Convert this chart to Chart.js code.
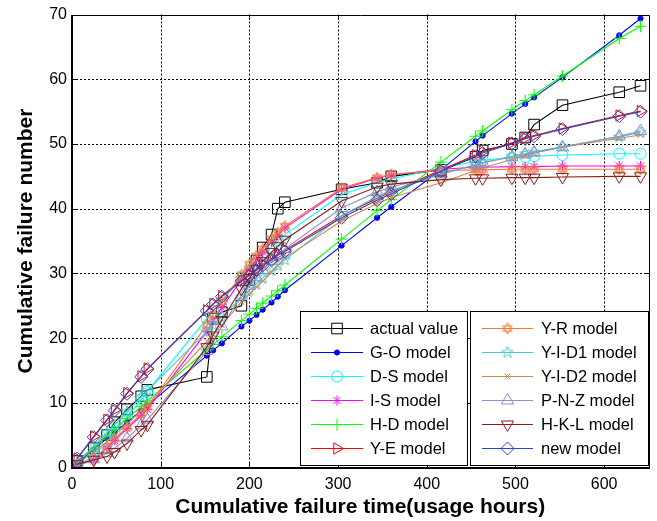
<!DOCTYPE html>
<html><head><meta charset="utf-8">
<script src="https://cdn.jsdelivr.net/npm/chart.js@4.4.1/dist/chart.umd.min.js"></script>
<style>html,body{margin:0;padding:0;background:#fff;overflow:hidden;}</style>
</head><body>
<canvas id="c" width="657" height="521"></canvas>
<script>
// ---------------- data ----------------
const times = [6, 24.5, 39.5, 48, 62, 78, 85, 152, 159, 169, 191, 200, 208, 215, 225, 232, 240, 304, 344, 360, 416, 455, 463, 496, 511, 521, 553, 617, 641];
const actualValue = [1, 3, 5, 7, 9, 11, 12, 14, 23, 24, 25, 29, 32, 34, 36, 40, 41, 43, 44, 45, 46, 48, 49, 50, 51, 53, 56, 58, 59];
const goModel   = [0.7, 2.8, 4.5, 5.4, 7.0, 8.8, 9.6, 17.3, 18.1, 19.2, 21.8, 22.7, 23.6, 24.4, 25.5, 26.4, 27.4, 34.3, 38.6, 40.3, 46.0, 50.4, 51.3, 54.7, 56.2, 57.2, 60.3, 66.8, 69.4];
const dsModel   = [0.3, 1.8, 4.0, 5.5, 7.8, 10.5, 11.8, 23.0, 24.2, 25.8, 29.3, 30.6, 31.8, 32.8, 34.1, 35.0, 36.0, 42.2, 44.0, 44.6, 46.3, 47.3, 47.5, 47.9, 48.0, 48.1, 48.3, 48.5, 48.5];
const isModel   = [0.3, 1.2, 3.0, 4.2, 6.0, 8.0, 9.0, 21.0, 22.6, 24.7, 29.0, 30.7, 32.1, 33.3, 34.9, 35.9, 37.0, 43.0, 44.7, 45.2, 46.1, 46.4, 46.4, 46.5, 46.5, 46.5, 46.6, 46.6, 46.6];
const hdModel   = [0.8, 3.0, 4.9, 5.9, 7.6, 9.4, 10.3, 18.2, 19.0, 20.2, 22.7, 23.7, 24.6, 25.4, 26.5, 27.3, 28.2, 35.3, 39.7, 41.4, 47.2, 51.2, 52.0, 55.3, 56.7, 57.6, 60.5, 66.3, 68.2];
const yeModel   = [1.4, 4.8, 7.4, 8.9, 11.5, 14.1, 15.3, 24.3, 25.3, 26.5, 28.9, 29.8, 30.7, 31.4, 32.3, 33.0, 33.6, 38.9, 41.6, 42.6, 46.0, 48.3, 48.8, 50.2, 50.9, 51.3, 52.4, 54.4, 55.1];
const yrModel   = [0.3, 1.3, 3.2, 4.4, 6.2, 8.3, 9.3, 22.0, 23.6, 25.6, 29.8, 31.4, 32.7, 33.8, 35.3, 36.3, 37.3, 43.2, 44.8, 45.3, 45.9, 46.0, 46.0, 46.1, 46.1, 46.1, 46.1, 46.1, 46.1];
const yid1Model = [0.8, 3.3, 5.4, 6.6, 8.6, 10.9, 11.9, 21.0, 22.0, 23.3, 26.3, 27.4, 28.4, 29.3, 30.4, 31.2, 32.1, 38.9, 41.9, 42.8, 45.3, 46.8, 47.1, 48.1, 48.5, 48.8, 49.6, 51.1, 51.8];
const yid2Model = [0.6, 2.4, 4.0, 5.0, 6.7, 8.8, 9.7, 19.5, 20.6, 22.0, 25.6, 26.8, 27.9, 28.8, 30.2, 31.2, 32.4, 38.1, 40.8, 41.7, 44.0, 45.9, 46.3, 47.6, 48.2, 48.6, 49.5, 50.9, 51.4];
const pnzModel  = [0.4, 1.3, 2.2, 3.0, 4.5, 6.5, 7.4, 18.0, 19.6, 21.8, 26.6, 28.1, 29.4, 30.5, 31.9, 32.8, 33.8, 40.1, 42.6, 43.3, 45.4, 46.8, 47.1, 48.0, 48.4, 48.7, 49.5, 51.2, 52.0];
const hklModel  = [0.5, 1.2, 1.7, 2.4, 3.7, 5.8, 6.6, 18.6, 20.4, 22.8, 27.6, 29.3, 30.7, 31.9, 33.3, 34.2, 35.2, 41.2, 43.4, 43.8, 44.5, 44.7, 44.7, 44.8, 44.8, 44.8, 44.9, 45.0, 45.0];
const newModel  = [1.4, 4.7, 7.3, 8.8, 11.4, 14.0, 15.2, 24.2, 25.2, 26.4, 28.8, 29.7, 30.5, 31.2, 32.1, 32.8, 33.4, 38.6, 41.3, 42.3, 45.8, 48.1, 48.6, 50.1, 50.8, 51.2, 52.3, 54.3, 55.0];
const seriesLabels = ['actual value','G-O model','D-S model','I-S model','H-D model','Y-E model','Y-R model','Y-I-D1 model','Y-I-D2 model','P-N-Z model','H-K-L model','new model'];
const seriesValues = [actualValue, goModel, dsModel, isModel, hdModel, yeModel, yrModel, yid1Model, yid2Model, pnzModel, hklModel, newModel];
const xTicks = [0, 100, 200, 300, 400, 500, 600];
const yTicks = [0, 10, 20, 30, 40, 50, 60, 70];
const xTitle = 'Cumulative failure time(usage hours)';
const yTitle = 'Cumulative failure number';

// ---------------- styles ----------------
function makeStarImage(color, points, rOut, rIn, hexagram) {
  const s = 14, c = document.createElement('canvas');
  c.width = s; c.height = s;
  const g = c.getContext('2d');
  g.strokeStyle = color; g.lineWidth = 1;
  const cx = s / 2, cy = s / 2;
  g.beginPath();
  if (hexagram) {
    for (let k = 0; k < 2; k++) {
      for (let i = 0; i < 3; i++) {
        const a = -Math.PI / 2 + k * Math.PI + i * 2 * Math.PI / 3;
        const px = cx + rOut * Math.cos(a), py = cy + rOut * Math.sin(a);
        if (i === 0) g.moveTo(px, py); else g.lineTo(px, py);
      }
      g.closePath();
    }
  } else {
    for (let i = 0; i < points * 2; i++) {
      const r = i % 2 === 0 ? rOut : rIn;
      const a = -Math.PI / 2 + i * Math.PI / points;
      const px = cx + r * Math.cos(a), py = cy + r * Math.sin(a);
      if (i === 0) g.moveTo(px, py); else g.lineTo(px, py);
    }
    g.closePath();
  }
  g.stroke();
  return c;
}
const colors = ['#000000','#0000ff','#00ffff','#ff00ff','#00ff00','#ff0000','#f07a35','#4ec9c9','#d2884e','#8f8fc9','#8b1c1c','#2746c8'];
const markerStyles = [
  {ps:'rect', r:7.5, rot:0, fill:false},
  {ps:'circle', r:2.6, rot:0, fill:true},
  {ps:'circle', r:5.5, rot:0, fill:false},
  {ps:'star', r:5, rot:0, fill:false},
  {ps:'cross', r:6, rot:0, fill:false},
  {ps:'triangle', r:6.5, rot:90, fill:false},
  {ps:makeStarImage(colors[6], 6, 5.5, 0, true), r:6, rot:0, fill:false},
  {ps:makeStarImage(colors[7], 5, 6, 2.5, false), r:6, rot:0, fill:false},
  {ps:'crossRot', r:4, rot:0, fill:false},
  {ps:'triangle', r:7, rot:0, fill:false},
  {ps:'triangle', r:7, rot:180, fill:false},
  {ps:'rectRot', r:6.5, rot:0, fill:false}
];
const FONT = '"Liberation Sans", Arial, sans-serif';

const datasets = seriesValues.map((vals, i) => ({
  label: seriesLabels[i],
  data: times.map((t, k) => ({x: t, y: vals[k]})),
  borderColor: colors[i],
  backgroundColor: 'rgba(0,0,0,0)',
  borderWidth: 1.1,
  tension: 0,
  fill: false,
  pointStyle: markerStyles[i].ps,
  pointRadius: markerStyles[i].r,
  pointHoverRadius: markerStyles[i].r,
  pointRotation: markerStyles[i].rot,
  pointBorderWidth: 1,
  pointBorderColor: colors[i],
  pointBackgroundColor: markerStyles[i].fill ? colors[i] : 'rgba(0,0,0,0)',
  order: seriesValues.length - i
}));

// ---------------- MATLAB-style axes + legend ----------------
const matlabPlugin = {
  id: 'matlab',
  beforeDatasetsDraw(chart) {
    const {ctx, chartArea: a, scales: {x, y}} = chart;
    ctx.save();
    ctx.strokeStyle = '#000'; ctx.lineWidth = 1; ctx.setLineDash([2, 2]);
    xTicks.forEach(v => {
      if (v === 0) return;
      const px = Math.round(x.getPixelForValue(v)) + 0.5;
      ctx.beginPath(); ctx.moveTo(px, a.bottom); ctx.lineTo(px, a.top); ctx.stroke();
    });
    yTicks.forEach(v => {
      if (v === 0 || v === 70) return;
      const py = Math.round(y.getPixelForValue(v)) + 0.5;
      ctx.beginPath(); ctx.moveTo(a.left, py); ctx.lineTo(a.right, py); ctx.stroke();
    });
    ctx.restore();
  },
  afterDatasetsDraw(chart) {
    const {ctx, chartArea: a, scales: {x, y}} = chart;
    ctx.save();
    ctx.setLineDash([]);
    ctx.strokeStyle = '#000';
    const L = Math.round(a.left), R = Math.round(a.right), T = Math.round(a.top), B = Math.round(a.bottom);
    ctx.lineWidth = 1;
    ctx.beginPath(); ctx.moveTo(L, T + 0.5); ctx.lineTo(R + 0.5, T + 0.5); ctx.lineTo(R + 0.5, B); ctx.stroke();
    ctx.lineWidth = 2;
    ctx.beginPath(); ctx.moveTo(L, T); ctx.lineTo(L, B); ctx.lineTo(R + 1, B); ctx.stroke();
    ctx.lineWidth = 1;
    xTicks.forEach(v => {
      const px = Math.round(x.getPixelForValue(v)) + 0.5;
      ctx.beginPath(); ctx.moveTo(px, B); ctx.lineTo(px, B - 5); ctx.stroke();
      ctx.beginPath(); ctx.moveTo(px, T); ctx.lineTo(px, T + 5); ctx.stroke();
    });
    yTicks.forEach(v => {
      const py = Math.round(y.getPixelForValue(v)) + 0.5;
      ctx.beginPath(); ctx.moveTo(L, py); ctx.lineTo(L + 5, py); ctx.stroke();
      ctx.beginPath(); ctx.moveTo(R, py); ctx.lineTo(R - 5, py); ctx.stroke();
    });
    // legend: two boxes
    const boxes = [{x0: 300.5, x1: 467.5}, {x0: 470.5, x1: 648.5}];
    const y0 = 311.5, y1 = 465.5;
    boxes.forEach(b => {
      ctx.fillStyle = '#fff';
      ctx.fillRect(b.x0, y0, b.x1 - b.x0, y1 - y0);
      ctx.strokeStyle = '#000'; ctx.lineWidth = 1;
      ctx.strokeRect(b.x0, y0, b.x1 - b.x0, y1 - y0);
    });
    ctx.font = '16.5px ' + FONT;
    ctx.textBaseline = 'middle';
    ctx.textAlign = 'left';
    chart.data.datasets.forEach((ds, i) => {
      const col = i < 6 ? 0 : 1, row = i % 6;
      const lx0 = col === 0 ? 311 : 482, lx1 = col === 0 ? 363 : 533, tx = col === 0 ? 370 : 541;
      const ly = 328.5 + row * 24;
      ctx.strokeStyle = ds.borderColor; ctx.lineWidth = 1.1;
      ctx.beginPath(); ctx.moveTo(lx0, ly); ctx.lineTo(lx1, ly); ctx.stroke();
      ctx.strokeStyle = ds.pointBorderColor; ctx.fillStyle = ds.pointBackgroundColor; ctx.lineWidth = 1;
      Chart.helpers.drawPoint(ctx, {pointStyle: ds.pointStyle, rotation: ds.pointRotation, radius: ds.pointRadius, borderWidth: 1}, (lx0 + lx1) / 2, ly);
      ctx.fillStyle = '#000';
      ctx.fillText(ds.label, tx, ly + 1);
    });
    ctx.restore();
  }
};

new Chart(document.getElementById('c'), {
  type: 'line',
  data: {datasets},
  options: {
    responsive: false,
    animation: false,
    events: [],
    layout: {padding: {top: 12, right: 6, left: 0, bottom: 0}},
    plugins: {legend: {display: false}, tooltip: {enabled: false}},
    scales: {
      x: {
        type: 'linear', min: 0, max: 650,
        afterBuildTicks: s => { s.ticks = xTicks.map(v => ({value: v})); },
        afterFit: s => { s.height = 53.5; },
        grid: {display: false, drawTicks: false},
        border: {display: false},
        ticks: {color: '#000', font: {family: FONT, size: 16}, padding: 7, maxRotation: 0, autoSkip: false},
        title: {display: true, text: xTitle, color: '#000', font: {family: FONT, size: 21, weight: 'bold'}, padding: {top: 0, bottom: 1}}
      },
      y: {
        type: 'linear', min: 0, max: 70,
        afterBuildTicks: s => { s.ticks = yTicks.map(v => ({value: v})); },
        afterFit: s => { s.width = 72; },
        grid: {display: false, drawTicks: false},
        border: {display: false},
        ticks: {color: '#000', font: {family: FONT, size: 16}, padding: 5, autoSkip: false},
        title: {display: true, text: yTitle, color: '#000', font: {family: FONT, size: 21, weight: 'bold'}, padding: {top: 14, bottom: 0}}
      }
    }
  },
  plugins: [matlabPlugin]
});
</script>
</body></html>
